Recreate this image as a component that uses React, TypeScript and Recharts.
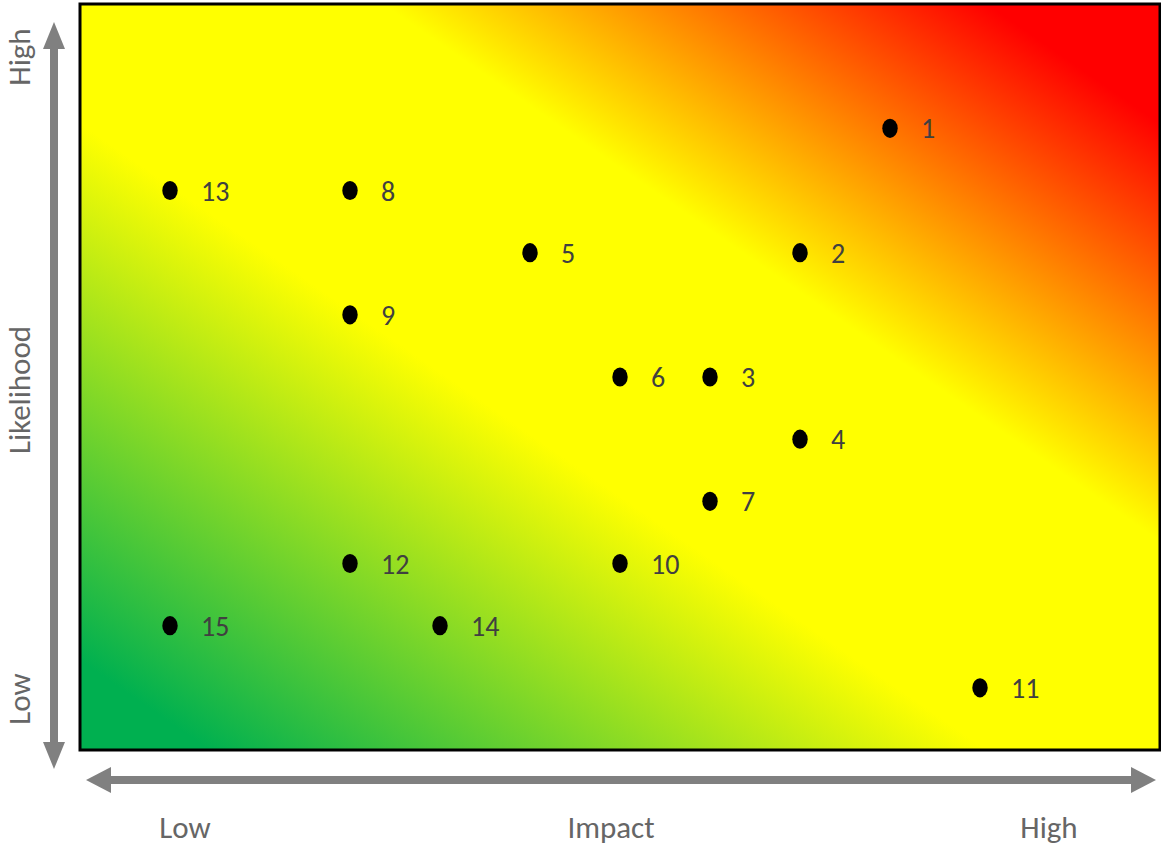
import React from "react";
import { ReferenceArea, Scatter, ScatterChart, XAxis, YAxis } from "recharts";

// risk register: id, impact (x) and likelihood (y) on a 0-12 grid
const riskIds = [1, 2, 3, 4, 5, 6, 7, 8, 9, 10, 11, 12, 13, 14, 15];
const impactScores = [9, 8, 7, 8, 5, 6, 7, 3, 3, 6, 10, 3, 1, 4, 1];
const likelihoodScores = [10, 8, 6, 5, 8, 6, 4, 9, 7, 3, 1, 3, 9, 2, 2];

const impactLabels = ["Low", "Impact", "High"];
const likelihoodLabels = ["Low", "Likelihood", "High"];

const W = 1161;
const H = 848;
const FONT = "Carlito, 'Liberation Sans Narrow', 'Open Sans', sans-serif";
const AXIS_GRAY = "#808080";
const TEXT_GRAY = "#666666";

const data = riskIds.map((id, i) => ({
  id,
  impact: impactScores[i],
  likelihood: likelihoodScores[i],
}));

function RiskDot(props: any) {
  const { cx, cy, payload } = props;
  if (cx == null || cy == null) return null;
  return (
    <g>
      <ellipse cx={cx} cy={cy} rx={7.7} ry={9.6} fill="#000" />
      <text
        x={cx + 31}
        y={cy + 10}
        fill="#404040"
        fontSize={28}
        fontFamily={FONT}
      >
        {payload.id}
      </text>
    </g>
  );
}

function Arrows() {
  return (
    <svg
      width={W}
      height={H}
      style={{ position: "absolute", left: 0, top: 0, pointerEvents: "none" }}
    >
      {/* vertical double arrow */}
      <rect x={50} y={48} width={8} height={697} fill={AXIS_GRAY} />
      <polygon points="54,22 43,49 65,49" fill={AXIS_GRAY} />
      <polygon points="54,769 43,742 65,742" fill={AXIS_GRAY} />
      {/* horizontal double arrow */}
      <rect x={108} y={776} width={1026} height={8} fill={AXIS_GRAY} />
      <polygon points="86,780 111,767 111,793" fill={AXIS_GRAY} />
      <polygon points="1156,780 1131,767 1131,793" fill={AXIS_GRAY} />
      {/* likelihood labels, rotated */}
      {[699, 390, 57].map((cy, i) => (
        <text
          key={likelihoodLabels[i]}
          x={30}
          y={cy}
          transform={`rotate(-90, 30, ${cy})`}
          textAnchor="middle"
          fill={TEXT_GRAY}
          fontSize={31}
          fontFamily={FONT}
        >
          {likelihoodLabels[i]}
        </text>
      ))}
      {/* impact labels */}
      {[185, 611, 1049].map((cx, i) => (
        <text
          key={impactLabels[i]}
          x={cx}
          y={838}
          textAnchor="middle"
          fill={TEXT_GRAY}
          fontSize={31}
          fontFamily={FONT}
        >
          {impactLabels[i]}
        </text>
      ))}
    </svg>
  );
}

export default function App() {
  return (
    <div
      style={{
        position: "absolute",
        left: 0,
        top: 0,
        width: W,
        height: H,
        background: "#fff",
      }}
    >
      <ScatterChart
        width={W}
        height={H}
        margin={{ top: 4, right: 1, bottom: 98, left: 80 }}
      >
        <defs>
          <linearGradient id="riskGradient" x1="0" y1="1" x2="1" y2="0">
            <stop offset="0.06" stopColor="#00b050" />
            <stop offset="0.42" stopColor="#ffff00" />
            <stop offset="0.64" stopColor="#ffff00" />
            <stop offset="0.92" stopColor="#ff0000" />
          </linearGradient>
        </defs>
        <XAxis type="number" dataKey="impact" domain={[0, 12]} hide />
        <YAxis type="number" dataKey="likelihood" domain={[0, 12]} hide />
        <ReferenceArea
          x1={0}
          x2={12}
          y1={0}
          y2={12}
          fill="url(#riskGradient)"
          fillOpacity={1}
          stroke="#000"
          strokeWidth={3}
        />
        <Scatter data={data} shape={RiskDot} isAnimationActive={false} />
      </ScatterChart>
      <Arrows />
    </div>
  );
}
